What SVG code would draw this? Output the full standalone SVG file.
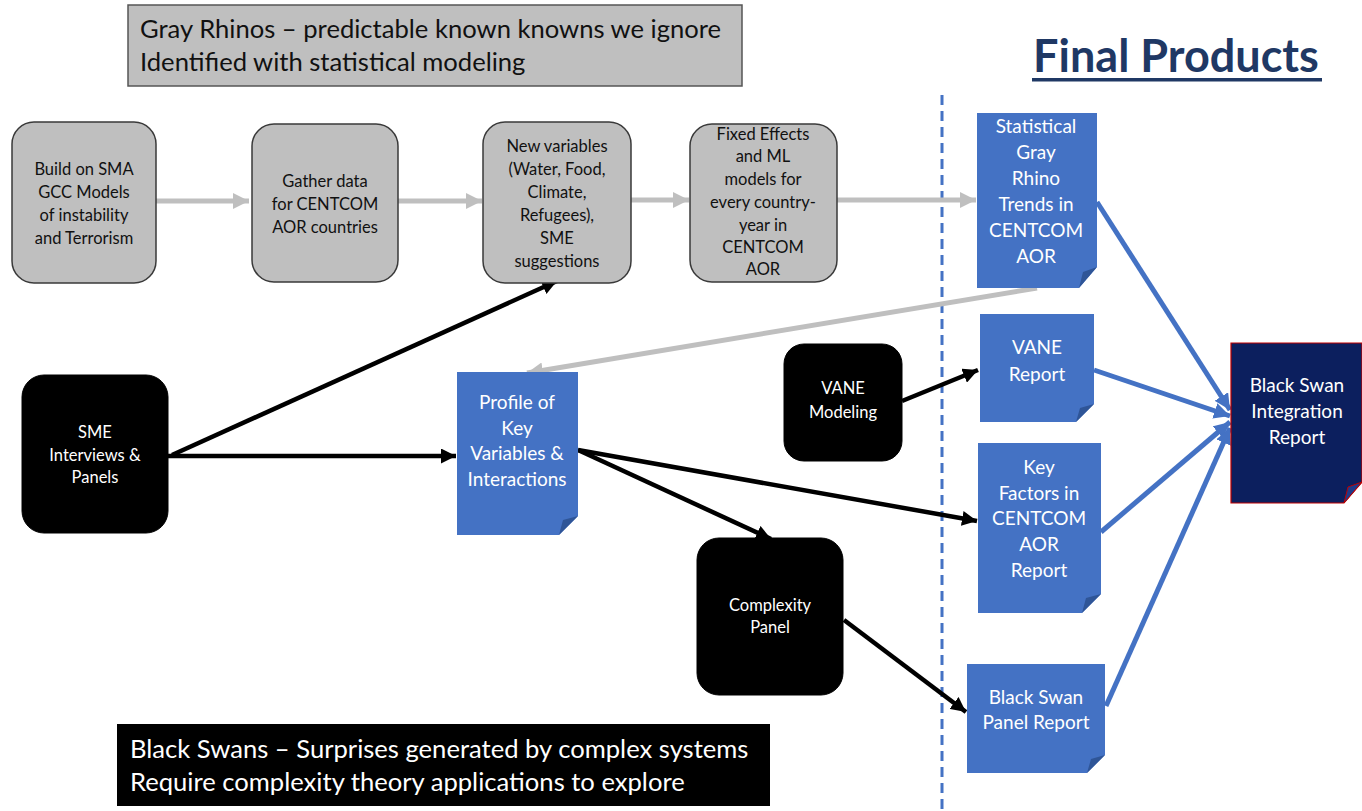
<svg xmlns="http://www.w3.org/2000/svg" width="1362" height="811" viewBox="0 0 1362 811">
<style>
text{font-family:Lato,"Open Sans","Liberation Sans",sans-serif;text-anchor:middle}
.gb{fill:#bfbfbf;stroke:#3a3a3a;stroke-width:1.5}
.bk{fill:#000;stroke:#000}
.doc{fill:#4472c4}
.fold{fill:#2f5597}
.gt{font-size:16.5px;fill:#111}
.wt{font-size:16.5px;fill:#fff}
.bt{font-size:19px;fill:#fff}
.big{font-size:25.6px;text-anchor:start}
.ga{stroke:#bfbfbf;stroke-width:5;fill:none;marker-end:url(#mg)}
.ka{stroke:#000;stroke-width:4.5;fill:none;marker-end:url(#mk)}
.ba{stroke:#4472c4;stroke-width:5;fill:none;marker-end:url(#mb)}
</style>
<defs>
<marker id="mg" viewBox="0 0 10 10" refX="10" refY="5" markerWidth="16" markerHeight="16" markerUnits="userSpaceOnUse" orient="auto"><path d="M0,0 L10,5 L0,10 Z" fill="#bfbfbf"/></marker>
<marker id="mk" viewBox="0 0 10 10" refX="10" refY="5" markerWidth="15" markerHeight="15" markerUnits="userSpaceOnUse" orient="auto"><path d="M0,0 L10,5 L0,10 Z" fill="#000"/></marker>
<marker id="mb" viewBox="0 0 10 10" refX="10" refY="5" markerWidth="16" markerHeight="16" markerUnits="userSpaceOnUse" orient="auto"><path d="M0,0 L10,5 L0,10 Z" fill="#4472c4"/></marker>
</defs>
<rect width="1362" height="811" fill="#fff"/>

<g id="header-gray">
<rect x="128" y="5" width="614" height="81" fill="#bfbfbf" stroke="#555" stroke-width="1.5"/>
<text class="big" x="140" y="38" fill="#111">Gray Rhinos – predictable known knowns we ignore</text>
<text class="big" x="140" y="71" fill="#111">Identified with statistical modeling</text>
</g>
<g id="final-products">
<text x="1176" y="72" font-size="45" font-weight="bold" fill="#1f3864">Final Products</text>
<rect x="1032" y="78" width="290" height="3.5" fill="#1f3864"/>
</g>

<g id="divider">
<line x1="942" y1="95" x2="942" y2="811" stroke="#4472c4" stroke-width="3" stroke-dasharray="10 6"/>
</g>

<g id="connectors">
<line class="ga" x1="156" y1="201" x2="249" y2="201"/>
<line class="ga" x1="398" y1="201" x2="482" y2="201"/>
<line class="ga" x1="631" y1="200" x2="689" y2="200"/>
<line class="ga" x1="837" y1="200" x2="976" y2="200"/>
<line class="ga" x1="1037" y1="288" x2="527" y2="373"/>
<line class="ka" x1="172" y1="455" x2="557" y2="281"/>
<line class="ka" x1="168" y1="456" x2="456" y2="456"/>
<line class="ka" x1="578" y1="450" x2="771" y2="539"/>
<line class="ka" x1="578" y1="450" x2="977" y2="521"/>
<line class="ka" x1="902" y1="401" x2="978" y2="370"/>
<line class="ka" x1="844" y1="620" x2="966" y2="712"/>
<line class="ba" x1="1097" y1="202" x2="1230" y2="410"/>
<line class="ba" x1="1094" y1="370" x2="1230" y2="416"/>
<line class="ba" x1="1101" y1="532" x2="1230" y2="422"/>
<line class="ba" x1="1106" y1="706" x2="1230" y2="428"/>
</g>

<g id="n-build">
<rect class="gb" x="12" y="122" width="144" height="161" rx="22"/>
<text class="gt" x="84" y="175">Build on SMA</text>
<text class="gt" x="84" y="198">GCC Models</text>
<text class="gt" x="84" y="221">of instability</text>
<text class="gt" x="84" y="244">and Terrorism</text>
</g>
<g id="n-gather">
<rect class="gb" x="252" y="124" width="146" height="158" rx="22"/>
<text class="gt" x="325" y="187">Gather data</text>
<text class="gt" x="325" y="210">for CENTCOM</text>
<text class="gt" x="325" y="233">AOR countries</text>
</g>
<g id="n-newvars">
<rect class="gb" x="483" y="122" width="148" height="161" rx="22"/>
<text class="gt" x="557" y="152">New variables</text>
<text class="gt" x="557" y="175">(Water, Food,</text>
<text class="gt" x="557" y="198">Climate,</text>
<text class="gt" x="557" y="221">Refugees),</text>
<text class="gt" x="557" y="244">SME</text>
<text class="gt" x="557" y="267">suggestions</text>
</g>
<g id="n-fixed">
<rect class="gb" x="690" y="124" width="147" height="158" rx="22"/>
<text class="gt" x="763" y="140">Fixed Effects</text>
<text class="gt" x="763" y="162">and ML</text>
<text class="gt" x="763" y="185">models for</text>
<text class="gt" x="763" y="208">every country-</text>
<text class="gt" x="763" y="231">year in</text>
<text class="gt" x="763" y="253">CENTCOM</text>
<text class="gt" x="763" y="275">AOR</text>
</g>

<g id="n-sme">
<rect class="bk" x="22" y="375" width="146" height="158" rx="22"/>
<text class="wt" x="95" y="438">SME</text>
<text class="wt" x="95" y="461">Interviews &amp;</text>
<text class="wt" x="95" y="483">Panels</text>
</g>
<g id="n-vane-model">
<rect class="bk" x="784" y="344" width="118" height="117" rx="20"/>
<text class="wt" x="843" y="394">VANE</text>
<text class="wt" x="843" y="418">Modeling</text>
</g>
<g id="n-complexity">
<rect class="bk" x="697" y="538" width="146" height="157" rx="22"/>
<text class="wt" x="770" y="611">Complexity</text>
<text class="wt" x="770" y="633">Panel</text>
</g>

<g id="n-profile">
<path class="doc" d="M457,372 H578 V516 L559,535 H457 Z"/>
<path class="fold" d="M559,535 L563,520 L578,516 Z"/>
<text class="bt" x="517" y="409">Profile of</text>
<text class="bt" x="517" y="435">Key</text>
<text class="bt" x="517" y="460">Variables &amp;</text>
<text class="bt" x="517" y="486">Interactions</text>
</g>
<g id="n-stat">
<path class="doc" d="M977,113 H1097 V267 L1079,288 H977 Z"/>
<path class="fold" d="M1079,288 L1083,272 L1097,267 Z"/>
<text class="bt" x="1036" y="133">Statistical</text>
<text class="bt" x="1036" y="159">Gray</text>
<text class="bt" x="1036" y="185">Rhino</text>
<text class="bt" x="1036" y="211">Trends in</text>
<text class="bt" x="1036" y="237">CENTCOM</text>
<text class="bt" x="1036" y="263">AOR</text>
</g>
<g id="n-vane-report">
<path class="doc" d="M980,314 H1094 V404 L1076,422 H980 Z"/>
<path class="fold" d="M1076,422 L1080,408 L1094,404 Z"/>
<text class="bt" x="1037" y="354">VANE</text>
<text class="bt" x="1037" y="381">Report</text>
</g>
<g id="n-keyfactors">
<path class="doc" d="M978,443 H1101 V594 L1082,613 H978 Z"/>
<path class="fold" d="M1082,613 L1086,598 L1101,594 Z"/>
<text class="bt" x="1039" y="474">Key</text>
<text class="bt" x="1039" y="500">Factors in</text>
<text class="bt" x="1039" y="525">CENTCOM</text>
<text class="bt" x="1039" y="551">AOR</text>
<text class="bt" x="1039" y="577">Report</text>
</g>
<g id="n-bspanel">
<path class="doc" d="M967,664 H1105 V755 L1087,773 H967 Z"/>
<path class="fold" d="M1087,773 L1091,759 L1105,755 Z"/>
<text class="bt" x="1036" y="704">Black Swan</text>
<text class="bt" x="1036" y="729">Panel Report</text>
</g>
<g id="n-integration">
<path d="M1231,343 H1362 V482 L1344,503 H1231 Z" fill="#0c1f5e" stroke="#c00000" stroke-width="1.2"/>
<path d="M1344,503 L1348,487 L1362,482 Z" fill="#1e3a8a" stroke="#c00000" stroke-width="1"/>
<text class="bt" x="1297" y="392">Black Swan</text>
<text class="bt" x="1297" y="418">Integration</text>
<text class="bt" x="1297" y="444">Report</text>
</g>

<g id="footer-black">
<rect x="117" y="724" width="653" height="82" fill="#000"/>
<text class="big" x="130" y="758" fill="#fff">Black Swans – Surprises generated by complex systems</text>
<text class="big" x="130" y="791" fill="#fff">Require complexity theory applications to explore</text>
</g>
</svg>
